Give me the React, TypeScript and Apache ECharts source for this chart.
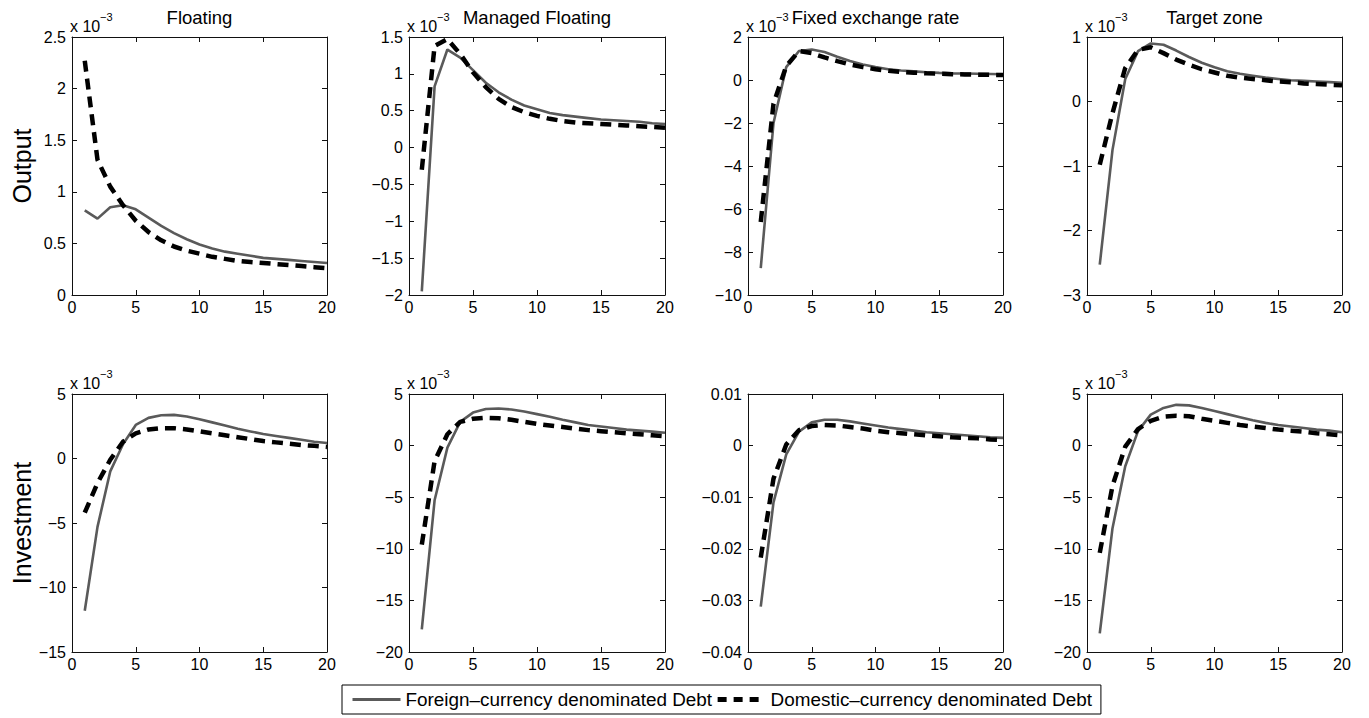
import React, { useEffect, useRef } from "react";
import * as echarts from "echarts";

// Horizon (periods)
const periods = [1, 2, 3, 4, 5, 6, 7, 8, 9, 10, 11, 12, 13, 14, 15, 16, 17, 18, 19, 20];

// Output responses (x 10^-3 except where noted)
const outFloatForeign = [0.82, 0.74, 0.85, 0.87, 0.83, 0.75, 0.67, 0.6, 0.54, 0.49, 0.45, 0.42, 0.4, 0.38, 0.36, 0.35, 0.34, 0.33, 0.32, 0.31];
const outFloatDomestic = [2.27, 1.31, 1.05, 0.87, 0.72, 0.61, 0.53, 0.47, 0.43, 0.4, 0.37, 0.35, 0.33, 0.32, 0.31, 0.3, 0.29, 0.28, 0.27, 0.26];
const outManagedForeign = [-1.95, 0.83, 1.33, 1.22, 1.05, 0.88, 0.75, 0.65, 0.57, 0.52, 0.47, 0.44, 0.42, 0.4, 0.38, 0.37, 0.36, 0.35, 0.33, 0.32];
const outManagedDomestic = [-0.3, 1.38, 1.47, 1.27, 1.02, 0.82, 0.66, 0.55, 0.48, 0.43, 0.39, 0.36, 0.34, 0.33, 0.32, 0.31, 0.3, 0.29, 0.28, 0.27];
const outFixedForeign = [-8.75, -2.0, 0.6, 1.35, 1.42, 1.3, 1.08, 0.88, 0.72, 0.6, 0.5, 0.44, 0.4, 0.36, 0.33, 0.31, 0.3, 0.29, 0.28, 0.27];
const outFixedDomestic = [-6.6, -1.1, 0.65, 1.35, 1.25, 1.05, 0.88, 0.72, 0.6, 0.5, 0.43, 0.38, 0.34, 0.31, 0.29, 0.27, 0.26, 0.25, 0.24, 0.23];
const outTargetForeign = [-2.53, -0.75, 0.35, 0.78, 0.9, 0.88, 0.79, 0.69, 0.6, 0.53, 0.47, 0.43, 0.4, 0.37, 0.35, 0.33, 0.32, 0.31, 0.3, 0.29];
const outTargetDomestic = [-0.98, -0.18, 0.52, 0.8, 0.84, 0.75, 0.65, 0.57, 0.5, 0.45, 0.4, 0.37, 0.35, 0.33, 0.31, 0.3, 0.28, 0.27, 0.26, 0.25];

// Investment responses
const invFloatForeign = [-11.8, -5.3, -1.0, 1.1, 2.6, 3.15, 3.35, 3.38, 3.25, 3.05, 2.8, 2.55, 2.3, 2.1, 1.9, 1.75, 1.6, 1.45, 1.3, 1.2];
const invFloatDomestic = [-4.2, -1.9, -0.1, 1.3, 1.95, 2.25, 2.35, 2.35, 2.25, 2.1, 1.95, 1.8, 1.65, 1.5, 1.35, 1.25, 1.15, 1.05, 0.98, 0.9];
const invManagedForeign = [-17.8, -5.3, -0.2, 2.3, 3.2, 3.55, 3.6, 3.5, 3.3, 3.05, 2.8, 2.5, 2.25, 2.0, 1.85, 1.7, 1.55, 1.45, 1.35, 1.25];
const invManagedDomestic = [-9.6, -1.5, 1.1, 2.3, 2.6, 2.7, 2.65, 2.5, 2.3, 2.1, 1.95, 1.8, 1.65, 1.5, 1.4, 1.3, 1.2, 1.1, 1.0, 0.9];
const invFixedForeign = [-0.0312, -0.011, -0.0017, 0.0027, 0.0045, 0.005, 0.005, 0.0047, 0.0043, 0.0039, 0.0035, 0.0032, 0.0029, 0.0026, 0.0024, 0.0022, 0.002, 0.0018, 0.0016, 0.0015];
const invFixedDomestic = [-0.0217, -0.0064, 0.0002, 0.003, 0.0038, 0.004, 0.0039, 0.0036, 0.0033, 0.0029, 0.0026, 0.0024, 0.0022, 0.002, 0.0018, 0.0016, 0.0015, 0.0014, 0.0012, 0.0011];
const invTargetForeign = [-18.2, -8.0, -2.0, 1.4, 3.0, 3.65, 3.95, 3.9, 3.65, 3.35, 3.05, 2.75, 2.45, 2.2, 2.0, 1.85, 1.7, 1.55, 1.45, 1.3];
const invTargetDomestic = [-10.4, -3.9, -0.1, 1.6, 2.4, 2.8, 2.9, 2.85, 2.6, 2.4, 2.2, 2.0, 1.85, 1.7, 1.55, 1.45, 1.35, 1.2, 1.1, 1.0];

const regimeTitles = ["Floating", "Managed Floating", "Fixed exchange rate", "Target zone"];
const rowLabels = ["Output", "Investment"];
const seriesNames = ["Foreign\u2013currency denominated Debt", "Domestic\u2013currency denominated Debt"];
const multiplierText = "x 10";
const multiplierExp = "\u22123";

// y-axis ranges [min, max, interval] per panel
const yMins = [0, -2, -10, -3, -15, -20, -0.04, -20];
const yMaxs = [2.5, 1.5, 2, 1, 5, 5, 0.01, 5];
const yIntervals = [0.5, 0.5, 2, 1, 5, 5, 0.01, 5];
const hasMultiplier = [true, true, true, true, true, true, false, true];
const xTicks = { min: 0, max: 20, interval: 5 };

const panelForeign = [outFloatForeign, outManagedForeign, outFixedForeign, outTargetForeign, invFloatForeign, invManagedForeign, invFixedForeign, invTargetForeign];
const panelDomestic = [outFloatDomestic, outManagedDomestic, outFixedDomestic, outTargetDomestic, invFloatDomestic, invManagedDomestic, invFixedDomestic, invTargetDomestic];

const FONT = '"Liberation Sans", Arial, Helvetica, sans-serif';
const colLeft = [72, 409, 748, 1087];
const colWidth = [255, 256, 255, 255];
const rowTop = [37, 394];
const rowHeight = 258;
const solidColor = "#5a5a5a";
const dashColor = "#000";

const fmt = (v: number) => String(parseFloat(Number(v).toPrecision(6))).replace("-", "\u2212");

export default function App() {
  const ref = useRef<HTMLDivElement>(null);

  useEffect(() => {
    if (!ref.current) return;
    const chart = echarts.init(ref.current, undefined, { renderer: "svg" });

    const grids: any[] = [];
    const xAxes: any[] = [];
    const yAxes: any[] = [];
    const series: any[] = [];
    const graphics: any[] = [];

    for (let p = 0; p < 8; p++) {
      const r = Math.floor(p / 4);
      const c = p % 4;
      const left = colLeft[c];
      const top = rowTop[r];
      grids.push({ left, top, width: colWidth[c], height: rowHeight, containLabel: false, show: false });

      const axisLine = { show: true, onZero: false, lineStyle: { color: "#111", width: 1 } };
      const tick = { show: true, inside: true, length: 5, lineStyle: { color: "#111", width: 1 } };
      xAxes.push({
        type: "value", gridIndex: p, position: "bottom", ...xTicks,
        axisLine, axisTick: tick, splitLine: { show: false },
        axisLabel: { show: true, margin: 4, color: "#000", fontSize: 16, fontFamily: FONT, formatter: fmt },
      });
      xAxes.push({
        type: "value", gridIndex: p, position: "top", ...xTicks,
        axisLine, axisTick: tick, splitLine: { show: false }, axisLabel: { show: false },
      });
      yAxes.push({
        type: "value", gridIndex: p, position: "left", min: yMins[p], max: yMaxs[p], interval: yIntervals[p],
        axisLine, axisTick: tick, splitLine: { show: false },
        axisLabel: { show: true, margin: 6, color: "#000", fontSize: 16, fontFamily: FONT, formatter: fmt },
      });
      yAxes.push({
        type: "value", gridIndex: p, position: "right", min: yMins[p], max: yMaxs[p], interval: yIntervals[p],
        axisLine, axisTick: tick, splitLine: { show: false }, axisLabel: { show: false },
      });

      series.push({
        name: seriesNames[0], type: "line", xAxisIndex: 2 * p, yAxisIndex: 2 * p,
        data: periods.map((t, i) => [t, panelForeign[p][i]]),
        symbol: "none", showSymbol: false, z: 3,
        lineStyle: { color: solidColor, width: 2.6, type: "solid" },
        itemStyle: { color: solidColor },
      });
      series.push({
        name: seriesNames[1], type: "line", xAxisIndex: 2 * p, yAxisIndex: 2 * p,
        data: periods.map((t, i) => [t, panelDomestic[p][i]]),
        symbol: "none", showSymbol: false, z: 4,
        lineStyle: { color: dashColor, width: 4.5, type: [11, 7] },
        itemStyle: { color: dashColor },
      });

      if (hasMultiplier[p]) {
        graphics.push({
          type: "text", x: left - 2, y: top - 11,
          style: { text: multiplierText, fontSize: 16, fontFamily: FONT, fill: "#000", align: "left", verticalAlign: "middle", textAlign: "left", textVerticalAlign: "middle" },
        });
        graphics.push({
          type: "text", x: left + 28, y: top - 20,
          style: { text: multiplierExp, fontSize: 11, fontFamily: FONT, fill: "#000", align: "left", verticalAlign: "middle", textAlign: "left", textVerticalAlign: "middle" },
        });
      }
    }

    for (let c = 0; c < 4; c++) {
      graphics.push({
        type: "text", x: colLeft[c] + colWidth[c] / 2, y: 17,
        style: { text: regimeTitles[c], fontSize: 18.5, fontFamily: FONT, fill: "#000", align: "center", verticalAlign: "middle", textAlign: "center", textVerticalAlign: "middle" },
      });
    }
    for (let r = 0; r < 2; r++) {
      graphics.push({
        type: "text", x: 22, y: rowTop[r] + rowHeight / 2, rotation: Math.PI / 2,
        style: { text: rowLabels[r], x: 0, y: 0, fontSize: 25, fontFamily: FONT, fill: "#000", align: "center", verticalAlign: "middle", textAlign: "center", textVerticalAlign: "middle" },
      });
    }

    chart.setOption({
      animation: false,
      backgroundColor: "#fff",
      grid: grids,
      xAxis: xAxes,
      yAxis: yAxes,
      series,
      graphic: graphics,
      legend: {
        show: true,
        data: [
          { name: seriesNames[0], lineStyle: { color: solidColor, width: 3, type: "solid" } },
          { name: seriesNames[1], lineStyle: { color: dashColor, width: 5, type: [9, 7] } },
        ],
        left: 342, top: 685,
        orient: "horizontal",
        padding: [5, 9, 5, 9],
        itemWidth: 48, itemHeight: 20, itemGap: 3,
        borderColor: "#000", borderWidth: 1,
        backgroundColor: "#fff",
        selectedMode: false,
        itemStyle: { color: "rgba(0,0,0,0)", borderColor: "rgba(0,0,0,0)", borderWidth: 0 },
        textStyle: { fontSize: 18.9, fontFamily: FONT, color: "#000" },
      },
    });

    return () => chart.dispose();
  }, []);

  return <div ref={ref} style={{ position: "absolute", left: 0, top: 0, width: 1369, height: 718, background: "#fff" }} />;
}
